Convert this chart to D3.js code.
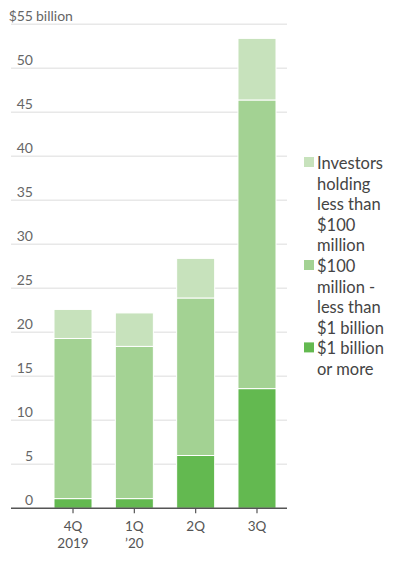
<!DOCTYPE html>
<html>
  <head>
    <script src="https://d3js.org/d3.v7.min.js"></script>
    <style>
      body { margin: 0; background: #fff; }
      text { font-family: Lato, "Open Sans", sans-serif; }
      .tick-label { font-size: 14px; fill: #666; }
      .x-label { font-size: 13.5px; fill: #555; }
      .legend-text { font-size: 16.5px; fill: #444; }
    </style>
  </head>
  <body>
    <div id="chart"></div>
    <script>
      // Data
      const quarters = ["4Q", "1Q", "2Q", "3Q"];
      const quarterSub = ["2019", "\u201920", "", ""];
      const big = [1.1, 1.1, 6.0, 13.6];        // $1 billion or more
      const mid = [18.2, 17.3, 17.9, 32.8];     // $100 million - less than $1 billion
      const small = [3.3, 3.8, 4.5, 7.0];       // less than $100 million
      const yTicks = [0, 5, 10, 15, 20, 25, 30, 35, 40, 45, 50, 55];
      const seriesNames = ["Investors holding less than $100 million", "$100 million - less than $1 billion", "$1 billion or more"];
      const legendLines = [
        ["Investors", "holding", "less than", "$100", "million"],
        ["$100", "million -", "less than", "$1 billion"],
        ["$1 billion", "or more"]
      ];
      const colors = ["#c7e2bc", "#a3d293", "#63b950"];

      const width = 398;
      const height = 583;

      const svg = d3
        .select("#chart")
        .append("svg")
        .attr("width", width)
        .attr("height", height);

      const rows = quarters.map((q, i) => ({ q: q, big: big[i], mid: mid[i], small: small[i] }));
      const stack = d3.stack().keys(["big", "mid", "small"]);
      const stacked = stack(rows);

      const x = d3.scaleBand().domain(quarters).range([54, 276]).paddingInner(0.38).paddingOuter(0);
      const y = d3.scaleLinear().domain([0, 55]).range([508.3, 24.3]);

      // gridlines
      svg
        .append("g")
        .selectAll("line")
        .data(yTicks.filter((d) => d > 0))
        .enter()
        .append("line")
        .attr("x1", 11)
        .attr("x2", 287)
        .attr("y1", (d) => y(d))
        .attr("y2", (d) => y(d))
        .attr("stroke", "#e8e8e8")
        .attr("stroke-width", 1.5);

      // y labels
      svg
        .append("g")
        .selectAll("text")
        .data(yTicks)
        .enter()
        .append("text")
        .attr("class", "tick-label")
        .attr("x", 33)
        .attr("y", (d) => y(d) - 3)
        .attr("text-anchor", "end")
        .text((d) => (d === 55 ? "$" + d : d));

      svg
        .append("text")
        .attr("class", "tick-label")
        .attr("x", 36)
        .attr("y", y(55) - 3)
        .text("billion");

      // bars
      const colorBy = { big: colors[2], mid: colors[1], small: colors[0] };
      svg
        .append("g")
        .selectAll("g")
        .data(stacked)
        .enter()
        .append("g")
        .attr("fill", (s) => colorBy[s.key])
        .selectAll("rect")
        .data((s) => s)
        .enter()
        .append("rect")
        .attr("x", (d) => x(d.data.q))
        .attr("y", (d) => y(d[1]))
        .attr("width", x.bandwidth())
        .attr("height", (d) => y(d[0]) - y(d[1]))
        .attr("stroke", "#fff")
        .attr("stroke-width", 1);

      // x axis
      const xAxis = svg
        .append("g")
        .attr("transform", `translate(0, ${y(0)})`)
        .call(d3.axisBottom(x).tickSize(5).tickFormat(""));
      xAxis.select(".domain").attr("d", "M11,0H287").attr("stroke", "#555").attr("stroke-width", 1.5);
      xAxis.selectAll(".tick line").attr("stroke", "#555").attr("stroke-width", 1.2);

      quarters.forEach((q, i) => {
        const t = svg
          .append("text")
          .attr("class", "x-label")
          .attr("text-anchor", "middle")
          .attr("x", x(q) + x.bandwidth() / 2)
          .attr("y", 531);
        t.append("tspan").text(q);
        if (quarterSub[i]) {
          t.append("tspan")
            .attr("x", x(q) + x.bandwidth() / 2)
            .attr("dy", 17)
            .text(quarterSub[i]);
        }
      });

      // legend
      const legend = svg.append("g").attr("transform", "translate(304, 0)");
      let lineY = 169;
      const lh = 20.6;
      legendLines.forEach((lines, i) => {
        legend
          .append("rect")
          .attr("x", 0)
          .attr("y", lineY - 12)
          .attr("width", 10)
          .attr("height", 10)
          .attr("fill", colors[i]);
        const t = legend
          .append("text")
          .attr("class", "legend-text")
          .attr("x", 13)
          .attr("y", lineY);
        t.append("title").text(seriesNames[i]);
        lines.forEach((l, j) => {
          t.append("tspan")
            .attr("x", 13)
            .attr("y", lineY + j * lh)
            .text(l);
        });
        lineY += lines.length * lh;
      });
    </script>
  </body>
</html>
